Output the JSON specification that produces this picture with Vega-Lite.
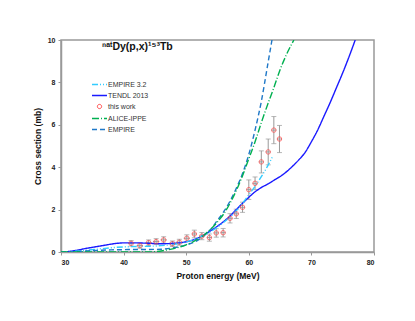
{
  "$schema": "https://vega.github.io/schema/vega-lite/v6.json",
  "width": 313,
  "height": 212,
  "autosize": {"type": "none"},
  "padding": {"left": 61, "top": 40, "right": 41, "bottom": 69},
  "background": "white",
  "config": {
    "font": "Liberation Sans",
    "view": {"stroke": "#999999", "strokeWidth": 1.5},
    "axis": {"grid": false, "domainColor": "#999999", "domainWidth": 1.5, "tickColor": "#999999", "tickSize": 3, "labelFontSize": 7, "labelFontWeight": "bold", "labelColor": "#222222", "titleFontSize": 8.5, "titleFontWeight": "bold", "titleColor": "#111111"}
  },
  "title": {"text": "ⁿᵃᵗDy(p,x)¹⁵³Tb", "anchor": "start", "frame": "group", "dx": 41, "dy": 20, "fontSize": 10.5, "fontWeight": "bold", "color": "#111111", "font": "Liberation Sans"},
  "datasets": {
    "curves": [
      {"series": "TENDL 2013", "E": 30, "xs": 0}, {"series": "TENDL 2013", "E": 31, "xs": 0.02}, {"series": "TENDL 2013", "E": 32, "xs": 0.06}, {"series": "TENDL 2013", "E": 33, "xs": 0.11}, {"series": "TENDL 2013", "E": 34, "xs": 0.17}, {"series": "TENDL 2013", "E": 35, "xs": 0.22}, {"series": "TENDL 2013", "E": 36, "xs": 0.27}, {"series": "TENDL 2013", "E": 37, "xs": 0.32}, {"series": "TENDL 2013", "E": 38, "xs": 0.37}, {"series": "TENDL 2013", "E": 39, "xs": 0.41}, {"series": "TENDL 2013", "E": 40, "xs": 0.43}, {"series": "TENDL 2013", "E": 42, "xs": 0.43}, {"series": "TENDL 2013", "E": 44, "xs": 0.41}, {"series": "TENDL 2013", "E": 46, "xs": 0.39}, {"series": "TENDL 2013", "E": 48, "xs": 0.41}, {"series": "TENDL 2013", "E": 50, "xs": 0.48}, {"series": "TENDL 2013", "E": 51, "xs": 0.56}, {"series": "TENDL 2013", "E": 52, "xs": 0.68}, {"series": "TENDL 2013", "E": 53, "xs": 0.84}, {"series": "TENDL 2013", "E": 54, "xs": 1.02}, {"series": "TENDL 2013", "E": 55, "xs": 1.22}, {"series": "TENDL 2013", "E": 56, "xs": 1.44}, {"series": "TENDL 2013", "E": 57, "xs": 1.7}, {"series": "TENDL 2013", "E": 58, "xs": 2.0}, {"series": "TENDL 2013", "E": 59, "xs": 2.3}, {"series": "TENDL 2013", "E": 60, "xs": 2.58}, {"series": "TENDL 2013", "E": 61, "xs": 2.84}, {"series": "TENDL 2013", "E": 62, "xs": 3.04}, {"series": "TENDL 2013", "E": 63, "xs": 3.2}, {"series": "TENDL 2013", "E": 64, "xs": 3.38}, {"series": "TENDL 2013", "E": 65, "xs": 3.56}, {"series": "TENDL 2013", "E": 66, "xs": 3.78}, {"series": "TENDL 2013", "E": 67, "xs": 4.05}, {"series": "TENDL 2013", "E": 68, "xs": 4.35}, {"series": "TENDL 2013", "E": 69, "xs": 4.7}, {"series": "TENDL 2013", "E": 70, "xs": 5.2}, {"series": "TENDL 2013", "E": 71, "xs": 5.75}, {"series": "TENDL 2013", "E": 72, "xs": 6.4}, {"series": "TENDL 2013", "E": 73, "xs": 7.05}, {"series": "TENDL 2013", "E": 74, "xs": 7.75}, {"series": "TENDL 2013", "E": 75, "xs": 8.45}, {"series": "TENDL 2013", "E": 76, "xs": 9.2}, {"series": "TENDL 2013", "E": 77, "xs": 10.0},
      {"series": "EMPIRE 3.2", "E": 30, "xs": 0}, {"series": "EMPIRE 3.2", "E": 32, "xs": 0.03}, {"series": "EMPIRE 3.2", "E": 34, "xs": 0.08}, {"series": "EMPIRE 3.2", "E": 36, "xs": 0.14}, {"series": "EMPIRE 3.2", "E": 38, "xs": 0.2}, {"series": "EMPIRE 3.2", "E": 40, "xs": 0.24}, {"series": "EMPIRE 3.2", "E": 42, "xs": 0.26}, {"series": "EMPIRE 3.2", "E": 44, "xs": 0.27}, {"series": "EMPIRE 3.2", "E": 46, "xs": 0.3}, {"series": "EMPIRE 3.2", "E": 48, "xs": 0.36}, {"series": "EMPIRE 3.2", "E": 50, "xs": 0.48}, {"series": "EMPIRE 3.2", "E": 52, "xs": 0.68}, {"series": "EMPIRE 3.2", "E": 54, "xs": 0.98}, {"series": "EMPIRE 3.2", "E": 56, "xs": 1.4}, {"series": "EMPIRE 3.2", "E": 58, "xs": 1.95}, {"series": "EMPIRE 3.2", "E": 59, "xs": 2.3}, {"series": "EMPIRE 3.2", "E": 60, "xs": 2.7}, {"series": "EMPIRE 3.2", "E": 61, "xs": 3.1}, {"series": "EMPIRE 3.2", "E": 62, "xs": 3.55}, {"series": "EMPIRE 3.2", "E": 63, "xs": 4.05}, {"series": "EMPIRE 3.2", "E": 63.8, "xs": 4.5},
      {"series": "EMPIRE", "E": 30, "xs": 0}, {"series": "EMPIRE", "E": 32, "xs": 0.02}, {"series": "EMPIRE", "E": 34, "xs": 0.05}, {"series": "EMPIRE", "E": 36, "xs": 0.08}, {"series": "EMPIRE", "E": 38, "xs": 0.1}, {"series": "EMPIRE", "E": 40, "xs": 0.11}, {"series": "EMPIRE", "E": 42, "xs": 0.12}, {"series": "EMPIRE", "E": 44, "xs": 0.12}, {"series": "EMPIRE", "E": 46, "xs": 0.13}, {"series": "EMPIRE", "E": 48, "xs": 0.2}, {"series": "EMPIRE", "E": 50, "xs": 0.33}, {"series": "EMPIRE", "E": 52, "xs": 0.58}, {"series": "EMPIRE", "E": 53, "xs": 0.8}, {"series": "EMPIRE", "E": 54, "xs": 1.1}, {"series": "EMPIRE", "E": 55, "xs": 1.5}, {"series": "EMPIRE", "E": 56, "xs": 1.9}, {"series": "EMPIRE", "E": 57, "xs": 2.4}, {"series": "EMPIRE", "E": 58, "xs": 3.0}, {"series": "EMPIRE", "E": 59, "xs": 3.7}, {"series": "EMPIRE", "E": 60, "xs": 4.6}, {"series": "EMPIRE", "E": 61, "xs": 5.75}, {"series": "EMPIRE", "E": 62, "xs": 7.1}, {"series": "EMPIRE", "E": 63, "xs": 8.8}, {"series": "EMPIRE", "E": 63.7, "xs": 10.0},
      {"series": "ALICE-IPPE", "E": 30, "xs": 0}, {"series": "ALICE-IPPE", "E": 44, "xs": 0}, {"series": "ALICE-IPPE", "E": 45, "xs": 0.02}, {"series": "ALICE-IPPE", "E": 46, "xs": 0.05}, {"series": "ALICE-IPPE", "E": 47, "xs": 0.1}, {"series": "ALICE-IPPE", "E": 48, "xs": 0.16}, {"series": "ALICE-IPPE", "E": 49, "xs": 0.24}, {"series": "ALICE-IPPE", "E": 50, "xs": 0.34}, {"series": "ALICE-IPPE", "E": 51, "xs": 0.47}, {"series": "ALICE-IPPE", "E": 52, "xs": 0.63}, {"series": "ALICE-IPPE", "E": 53, "xs": 0.84}, {"series": "ALICE-IPPE", "E": 54, "xs": 1.1}, {"series": "ALICE-IPPE", "E": 55, "xs": 1.42}, {"series": "ALICE-IPPE", "E": 56, "xs": 1.8}, {"series": "ALICE-IPPE", "E": 57, "xs": 2.3}, {"series": "ALICE-IPPE", "E": 58, "xs": 2.9}, {"series": "ALICE-IPPE", "E": 59, "xs": 3.6}, {"series": "ALICE-IPPE", "E": 60, "xs": 4.4}, {"series": "ALICE-IPPE", "E": 61, "xs": 5.2}, {"series": "ALICE-IPPE", "E": 62, "xs": 6.1}, {"series": "ALICE-IPPE", "E": 63, "xs": 6.95}, {"series": "ALICE-IPPE", "E": 64, "xs": 7.75}, {"series": "ALICE-IPPE", "E": 65, "xs": 8.6}, {"series": "ALICE-IPPE", "E": 66, "xs": 9.3}, {"series": "ALICE-IPPE", "E": 67.2, "xs": 10.0}
    ],
    "points": [
      {"series": "this work", "E": 41.2, "xs": 0.41, "lo": 0.28, "hi": 0.54, "elo": 40.7, "ehi": 41.7},
      {"series": "this work", "E": 42.6, "xs": 0.30, "lo": 0.18, "hi": 0.42, "elo": 42.1, "ehi": 43.1},
      {"series": "this work", "E": 44.0, "xs": 0.44, "lo": 0.31, "hi": 0.57, "elo": 43.5, "ehi": 44.5},
      {"series": "this work", "E": 45.2, "xs": 0.49, "lo": 0.35, "hi": 0.63, "elo": 44.7, "ehi": 45.7},
      {"series": "this work", "E": 46.4, "xs": 0.57, "lo": 0.42, "hi": 0.72, "elo": 45.9, "ehi": 46.9},
      {"series": "this work", "E": 47.8, "xs": 0.39, "lo": 0.26, "hi": 0.52, "elo": 47.3, "ehi": 48.3},
      {"series": "this work", "E": 48.9, "xs": 0.46, "lo": 0.32, "hi": 0.60, "elo": 48.4, "ehi": 49.4},
      {"series": "this work", "E": 50.1, "xs": 0.65, "lo": 0.49, "hi": 0.81, "elo": 49.6, "ehi": 50.6},
      {"series": "this work", "E": 51.3, "xs": 0.85, "lo": 0.67, "hi": 1.03, "elo": 50.9, "ehi": 51.7},
      {"series": "this work", "E": 52.5, "xs": 0.75, "lo": 0.58, "hi": 0.92, "elo": 52.1, "ehi": 52.9},
      {"series": "this work", "E": 53.7, "xs": 0.68, "lo": 0.51, "hi": 0.85, "elo": 53.3, "ehi": 54.1},
      {"series": "this work", "E": 54.8, "xs": 0.90, "lo": 0.70, "hi": 1.10, "elo": 54.4, "ehi": 55.2},
      {"series": "this work", "E": 55.9, "xs": 0.91, "lo": 0.71, "hi": 1.11, "elo": 55.5, "ehi": 56.3},
      {"series": "this work", "E": 57.0, "xs": 1.59, "lo": 1.37, "hi": 1.81, "elo": 56.6, "ehi": 57.4},
      {"series": "this work", "E": 58.0, "xs": 1.80, "lo": 1.58, "hi": 2.02, "elo": 57.6, "ehi": 58.4},
      {"series": "this work", "E": 59.0, "xs": 2.11, "lo": 1.87, "hi": 2.35, "elo": 58.6, "ehi": 59.4},
      {"series": "this work", "E": 60.0, "xs": 2.94, "lo": 2.48, "hi": 3.40, "elo": 59.6, "ehi": 60.4},
      {"series": "this work", "E": 61.0, "xs": 3.24, "lo": 2.94, "hi": 3.54, "elo": 60.6, "ehi": 61.4},
      {"series": "this work", "E": 62.0, "xs": 4.25, "lo": 3.73, "hi": 4.77, "elo": 61.6, "ehi": 62.4},
      {"series": "this work", "E": 63.1, "xs": 4.72, "lo": 4.11, "hi": 5.33, "elo": 62.7, "ehi": 63.5},
      {"series": "this work", "E": 64.0, "xs": 5.75, "lo": 5.11, "hi": 6.39, "elo": 63.6, "ehi": 64.4},
      {"series": "this work", "E": 64.9, "xs": 5.33, "lo": 4.69, "hi": 5.97, "elo": 64.5, "ehi": 65.3}
    ]
  },
  "layer": [
    {
      "data": {"name": "points"},
      "mark": {"type": "rule", "color": "#999999", "strokeWidth": 1},
      "encoding": {
        "x": {"field": "E", "type": "quantitative", "scale": {"domain": [30, 80], "nice": false, "zero": false}},
        "y": {"field": "lo", "type": "quantitative", "scale": {"domain": [0, 10], "nice": false}},
        "y2": {"field": "hi"}
      }
    },
    {
      "data": {"name": "points"},
      "mark": {"type": "rule", "color": "#999999", "strokeWidth": 1},
      "encoding": {
        "x": {"field": "elo", "type": "quantitative", "scale": {"domain": [30, 80], "nice": false, "zero": false}},
        "x2": {"field": "ehi"},
        "y": {"field": "xs", "type": "quantitative", "scale": {"domain": [0, 10], "nice": false}}
      }
    },
    {
      "data": {"name": "points"},
      "mark": {"type": "tick", "orient": "horizontal", "color": "#999999", "size": 5, "thickness": 1},
      "encoding": {
        "x": {"field": "E", "type": "quantitative", "scale": {"domain": [30, 80], "nice": false, "zero": false}},
        "y": {"field": "hi", "type": "quantitative", "scale": {"domain": [0, 10], "nice": false}}
      }
    },
    {
      "data": {"name": "points"},
      "mark": {"type": "tick", "orient": "horizontal", "color": "#999999", "size": 5, "thickness": 1},
      "encoding": {
        "x": {"field": "E", "type": "quantitative", "scale": {"domain": [30, 80], "nice": false, "zero": false}},
        "y": {"field": "lo", "type": "quantitative", "scale": {"domain": [0, 10], "nice": false}}
      }
    },
    {
      "data": {"name": "curves"},
      "mark": {"type": "line", "interpolate": "monotone", "strokeWidth": 1.4, "clip": true},
      "encoding": {
        "x": {"field": "E", "type": "quantitative", "scale": {"domain": [30, 80], "nice": false, "zero": false}, "axis": {"title": "Proton energy (MeV)", "values": [30, 40, 50, 60, 70, 80], "titlePadding": 6, "labelPadding": 3}},
        "y": {"field": "xs", "type": "quantitative", "scale": {"domain": [0, 10], "nice": false}, "axis": {"title": "Cross section (mb)", "values": [0, 2, 4, 6, 8, 10], "titlePadding": 5, "labelPadding": 3}},
        "color": {
          "field": "series", "type": "nominal",
          "scale": {"domain": ["EMPIRE 3.2", "TENDL 2013", "this work", "ALICE-IPPE", "EMPIRE"], "range": ["#33ccff", "#1a1aff", "#ff4444", "#00b050", "#1f78c8"]},
          "legend": {
            "orient": "none", "legendX": 35, "legendY": 41, "title": null, "direction": "vertical",
            "symbolType": "stroke", "symbolSize": 225, "symbolStrokeWidth": 1.5,
            "labelFontSize": 7, "labelFontWeight": "normal", "labelColor": "#333333", "rowPadding": 3, "labelOffset": 5,
            "encode": {"symbols": {"update": {
              "shape": {"signal": "datum.value === 'this work' ? 'circle' : 'stroke'"},
              "size": {"signal": "datum.value === 'this work' ? 18 : 225"},
              "strokeWidth": {"signal": "datum.value === 'this work' ? 1 : 1.5"}
            }}}
          }
        },
        "strokeDash": {
          "field": "series", "type": "nominal",
          "scale": {"domain": ["EMPIRE 3.2", "TENDL 2013", "this work", "ALICE-IPPE", "EMPIRE"], "range": [[6, 2, 1, 2, 1, 2], [1, 0], [1, 0], [7, 2, 1, 2], [5, 3]]},
          "legend": null
        }
      }
    },
    {
      "data": {"name": "points"},
      "mark": {"type": "point", "shape": "circle", "filled": false, "size": 20, "strokeWidth": 1},
      "encoding": {
        "x": {"field": "E", "type": "quantitative", "scale": {"domain": [30, 80], "nice": false, "zero": false}},
        "y": {"field": "xs", "type": "quantitative", "scale": {"domain": [0, 10], "nice": false}},
        "color": {"field": "series", "type": "nominal"}
      }
    }
  ]
}
